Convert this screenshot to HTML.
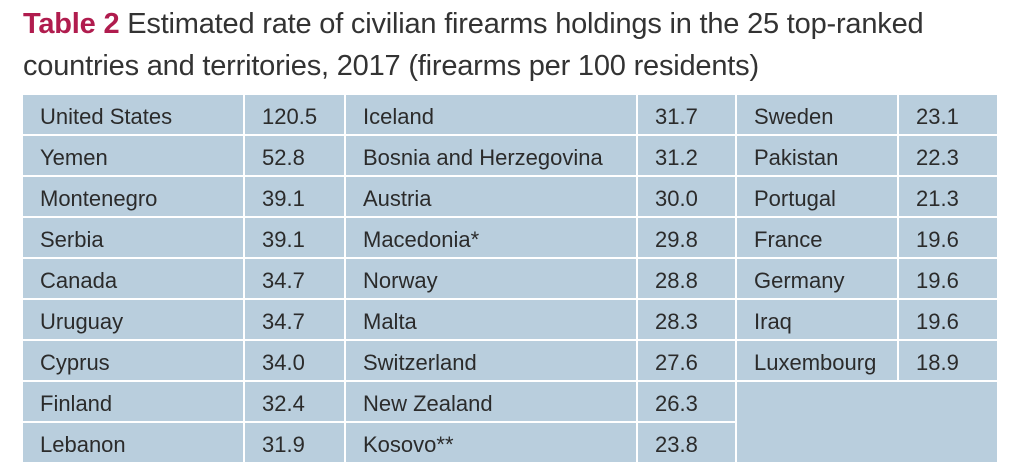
<!DOCTYPE html>
<html><head><meta charset="utf-8"><style>
body{margin:0;width:1013px;height:470px;background:#fff;font-family:"Liberation Sans",sans-serif;position:relative;overflow:hidden}
.t{position:absolute;left:23px;font-size:29px;color:#333;white-space:nowrap;letter-spacing:-0.2px}
.c{position:absolute;background:#b9cedd;font-size:22px;color:#2b2b2b;box-sizing:border-box;padding-left:17px;padding-top:4px;display:flex;align-items:center}
</style></head><body>
<div class="t" style="top:8px"><b style="color:#b01c4e">Table 2</b> Estimated rate of civilian firearms holdings in the 25 top-ranked</div>
<div class="t" style="top:50px">countries and territories, 2017 (firearms per 100 residents)</div>
<div id="tbl"></div>
<script>
const names=["United States","Yemen","Montenegro","Serbia","Canada","Uruguay","Cyprus","Finland","Lebanon","Iceland","Bosnia and Herzegovina","Austria","Macedonia*","Norway","Malta","Switzerland","New Zealand","Kosovo**","Sweden","Pakistan","Portugal","France","Germany","Iraq","Luxembourg"];
const vals=["120.5","52.8","39.1","39.1","34.7","34.7","34.0","32.4","31.9","31.7","31.2","30.0","29.8","28.8","28.3","27.6","26.3","23.8","23.1","22.3","21.3","19.6","19.6","19.6","18.9"];
const colX=[23,245,346,638,737,899,999];
const top0=95,rh=41,g=2;
function cell(x,y,w,h,txt,name){
 const d=document.createElement('div');d.className='c';
 d.style.left=x+'px';d.style.top=y+'px';d.style.width=w+'px';d.style.height=h+'px';
 d.textContent=txt;
 
 
 document.body.appendChild(d);
}
names.forEach((n,i)=>{
 const col=Math.floor(i/9),row=i%9;
 const y=top0+row*rh;
 const x0=colX[col*2],x1=colX[col*2+1],x2=colX[col*2+2];
 cell(x0,y,x1-x0-g,rh-g,n,'country-cell');
 cell(x1,y,x2-x1-g,rh-g,vals[i],'rate-cell');
});
cell(colX[4],top0+7*rh,colX[6]-colX[4]-g,2*rh-g,'','empty-cell');
</script>
</body></html>
